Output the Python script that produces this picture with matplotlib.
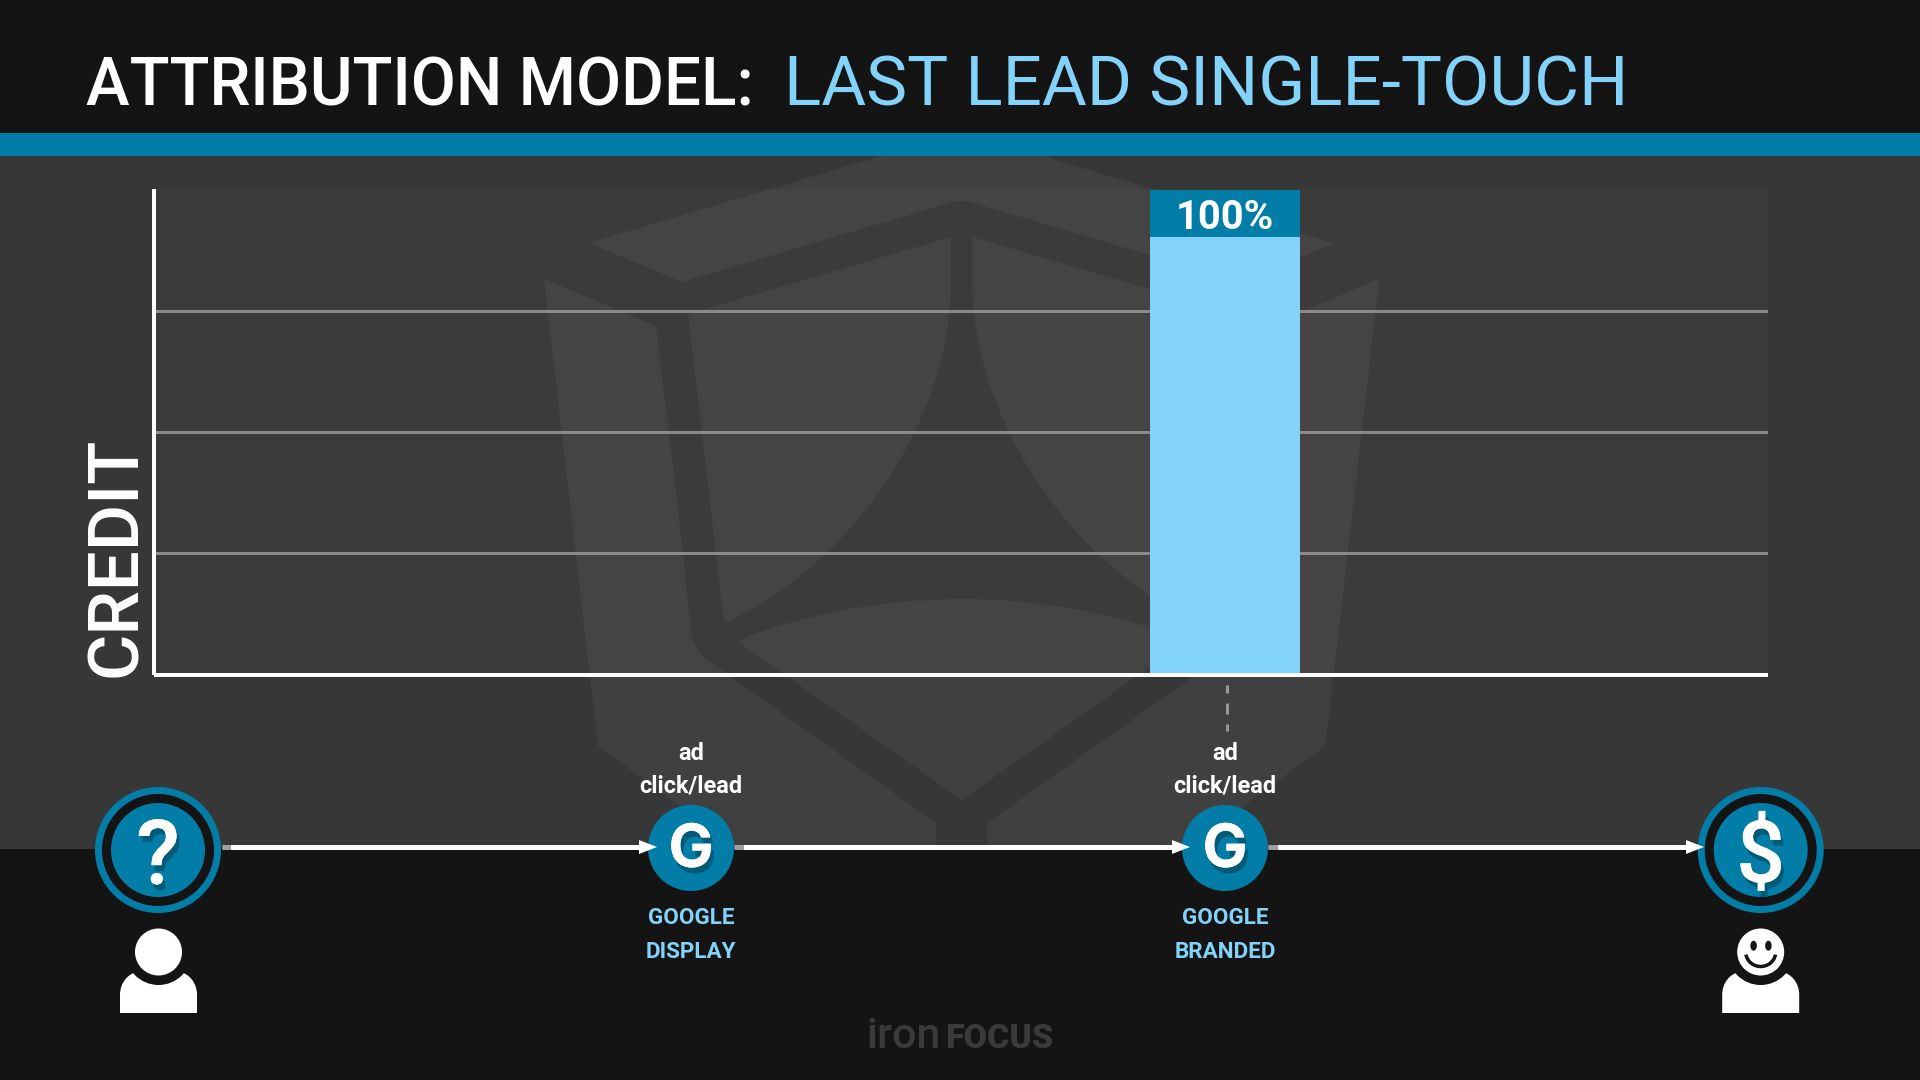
import matplotlib
matplotlib.use("Agg")
import matplotlib.pyplot as plt
import matplotlib.patheffects as pe
from matplotlib.patches import Polygon, Circle, Ellipse, Rectangle, PathPatch, Arc
from matplotlib.path import Path

plt.rcParams['lines.scale_dashes'] = False

# ---- data ----
touchpoints = ["GOOGLE\nDISPLAY", "GOOGLE\nBRANDED"]
credit = [0, 100]
credit_label = "100%"
grid_levels = [25, 50, 75]
cap_band = 9.7
title_white = "ATTRIBUTION MODEL:"
title_blue = "LAST LEAD SINGLE-TOUCH"
y_title = "CREDIT"
event_label = "ad\nclick/lead"

# ---- palette ----
DARK = "#141414"; BG = "#373737"; WM = "#404040"
BLUE = "#017DA8"; LIGHT = "#82D2F9"; SHADOW = "#015A78"; GRID = "#8A8A8A"

W, H = 1920, 1080
fig = plt.figure(figsize=(W / 100, H / 100), dpi=100, facecolor=BG)


def px_axes(z):
    a = fig.add_axes([0, 0, 1, 1], zorder=z)
    a.set_xlim(0, W); a.set_ylim(H, 0); a.axis("off")
    return a


def pt(px):
    return px * 0.72


def long_shadow():
    return [pe.withSimplePatchShadow(offset=(pt(3), pt(-6)), shadow_rgbFace=SHADOW, alpha=1.0), pe.Normal()]


# ---- background + watermark ----
bg = px_axes(0)
MID = 961.7


def mirror(p):
    return [(2 * MID - x, y) for x, y in p]


top_band = [(589, 243), (MID, 132), (1334, 243), (1241, 282), (967, 201), (956, 201), (682, 282)]
left_wall = [(544, 279), (656, 326), (677, 500), (692, 640), (703, 657), (936, 823), (936, 850),
             (740, 850), (598, 746)]
for poly in [top_band, left_wall, mirror(left_wall)]:
    bg.add_patch(Polygon(poly, closed=True, fc=WM, ec="none"))

inner = [(688, 314), (951, 237), (951, 283), (951, 410), (862, 560), (724, 623), (688, 314)]
inner_codes = [Path.MOVETO, Path.LINETO, Path.LINETO, Path.CURVE4, Path.CURVE4, Path.CURVE4, Path.CLOSEPOLY]
for v in [inner, mirror(inner)]:
    bg.add_patch(PathPatch(Path(v, inner_codes), fc=WM, ec="none"))
lower = [(737, 641), (800, 615), (880, 599), (MID, 599), (2 * MID - 880, 599), (2 * MID - 800, 615),
         (2 * MID - 737, 641), (MID, 800), (737, 641)]
lower_codes = [Path.MOVETO] + [Path.CURVE4] * 6 + [Path.LINETO, Path.CLOSEPOLY]
bg.add_patch(PathPatch(Path(lower, lower_codes), fc=WM, ec="none"))

bg.add_patch(Rectangle((0, 0), W, 133, fc=DARK, ec="none"))
bg.add_patch(Rectangle((0, 133), W, 23, fc=BLUE, ec="none"))
bg.add_patch(Rectangle((0, 849), W, 231, fc=DARK, ec="none"))

# ---- chart ----
L, R, T, B = 154, 1768, 189, 675
ax = fig.add_axes([L / W, 1 - B / H, (R - L) / W, (B - T) / H], zorder=1)
ax.set_facecolor((1, 1, 1, 0.022))
unit = 1225 - 691
ax.set_xlim((L - 691) / unit, (R - 691) / unit)
ax.set_ylim(0, 100.2)
xs = list(range(len(touchpoints)))
for lvl in grid_levels:
    ax.axhline(lvl + 0.1, color=GRID, lw=pt(3), zorder=1)
bw = 150 / unit
ax.bar(xs, credit, width=bw, color=LIGHT, zorder=2)
for x, c in zip(xs, credit):
    if c > 0:
        ax.bar([x], [cap_band], bottom=c - cap_band, width=bw, color=BLUE, zorder=3)
        ax.text(x, c - cap_band / 2 - 0.1, credit_label, color="white", ha="center", va="center_baseline",
                family="Roboto", weight="bold", fontsize=pt(40), zorder=4)
ax.set_xticks([]); ax.set_yticks([])
for s in ("top", "right"):
    ax.spines[s].set_visible(False)
for s in ("left", "bottom"):
    ax.spines[s].set_color("white")
    ax.spines[s].set_linewidth(pt(4))
    ax.spines[s].set_capstyle("butt")

# ---- foreground ----
fg = px_axes(2)
fg.text(86, 105, title_white, color="white", family="Roboto", weight="medium", fontsize=pt(65.5),
        ha="left", va="baseline")
fg.text(784, 105, title_blue, color=LIGHT, family="Roboto", weight="normal", fontsize=pt(69),
        ha="left", va="baseline")
fg.text(136, 677, y_title, color="white", family="Roboto", weight="medium", fontsize=pt(71), rotation=90,
        rotation_mode="anchor", ha="left", va="baseline")

# timeline
LINE_Y = 847
segments = [(230, 640), (743, 1174), (1277, 1688)]
for a, b in segments:
    fg.plot([a, b], [LINE_Y, LINE_Y], color="white", lw=pt(5), solid_capstyle="butt", zorder=2)
for a, b in [(222, 230), (734, 743), (1268, 1277)]:
    fg.plot([a, b], [LINE_Y, LINE_Y], color="#A0A0A0", lw=pt(5), solid_capstyle="butt", zorder=2)


def big_node(cx, cy, ch, size):
    fg.add_patch(Circle((cx, cy), 63, fc=BLUE, ec="none", zorder=3))
    fg.add_patch(Circle((cx, cy), 56, fc=DARK, ec="none", zorder=3))
    fg.add_patch(Circle((cx, cy), 47, fc=BLUE, ec="none", zorder=3))
    fg.text(cx, cy, ch, color="white", family="Roboto", weight="medium", fontsize=pt(size),
            ha="center", va="center_baseline", zorder=5, path_effects=long_shadow())


big_node(158, 850, "?", 90)
big_node(1760.7, 850, "$", 86)

node_x = [691, 1225]
for x, tp in zip(node_x, touchpoints):
    fg.add_patch(Circle((x, 848), 43, fc=BLUE, ec="none", zorder=3))
    fg.text(x, 867, "G", color="white", family="Inter", weight="bold", fontsize=pt(60),
            ha="center", va="baseline", zorder=5, path_effects=long_shadow())
    a, b = event_label.split("\n")
    fg.text(x, 760, a, color="white", family="Roboto", weight="bold", fontsize=pt(23.5), ha="center", va="baseline")
    fg.text(x, 792, b, color="white", family="Roboto", weight="bold", fontsize=pt(23.5), ha="center", va="baseline")
    c, d = tp.split("\n")
    fg.text(x, 924, c, color=LIGHT, family="Roboto", weight="bold", fontsize=pt(22.5), ha="center", va="baseline")
    fg.text(x, 958, d, color=LIGHT, family="Roboto", weight="bold", fontsize=pt(22.5), ha="center", va="baseline")

for tip in [657, 1190, 1704]:
    fg.add_patch(Polygon([(tip - 18, LINE_Y - 7), (tip, LINE_Y), (tip - 18, LINE_Y + 7)], fc="white", ec="none", zorder=6))

# dashed link
fg.plot([1227, 1227], [685, 731], color="#999999", lw=pt(3), linestyle=(pt(3), (pt(11), pt(10))), zorder=1)


# people
def person(cx):
    verts = [(cx - 38.5, 1013), (cx - 38.5, 995), (cx - 38.5, 982), (cx - 30, 974), (cx - 22, 972),
             (cx + 22, 972), (cx + 30, 974), (cx + 38.5, 982), (cx + 38.5, 995), (cx + 38.5, 1013), (cx - 38.5, 1013)]
    codes = [Path.MOVETO, Path.LINETO, Path.CURVE4, Path.CURVE4, Path.CURVE4, Path.LINETO,
             Path.CURVE4, Path.CURVE4, Path.CURVE4, Path.LINETO, Path.CLOSEPOLY]
    fg.add_patch(PathPatch(Path(verts, codes), fc="white", ec="none", zorder=3))
    fg.add_patch(Circle((cx, 952), 33, fc=DARK, ec="none", zorder=4))
    fg.add_patch(Circle((cx, 952), 23.5, fc="white", ec="none", zorder=5))


person(158.5)
person(1760.7)
fg.add_patch(Ellipse((1753.6, 945.7), 6.5, 10, fc=DARK, ec="none", zorder=6))
fg.add_patch(Ellipse((1768.4, 945.7), 6.5, 10, fc=DARK, ec="none", zorder=6))
fg.add_patch(Arc((1760.7, 952), 30, 29, theta1=10, theta2=170, color=DARK, lw=pt(3.5), zorder=6))

# logo
fg.text(866, 1048, "iron", color="#3A3A3A", family="Roboto", weight="medium", fontsize=pt(43), ha="left", va="baseline")
fg.text(945, 1048, "FOCUS", color="#3A3A3A", family="Roboto", weight="black", fontsize=pt(34), ha="left", va="baseline")

fig.savefig("out.png", dpi=100, facecolor=fig.get_facecolor())
